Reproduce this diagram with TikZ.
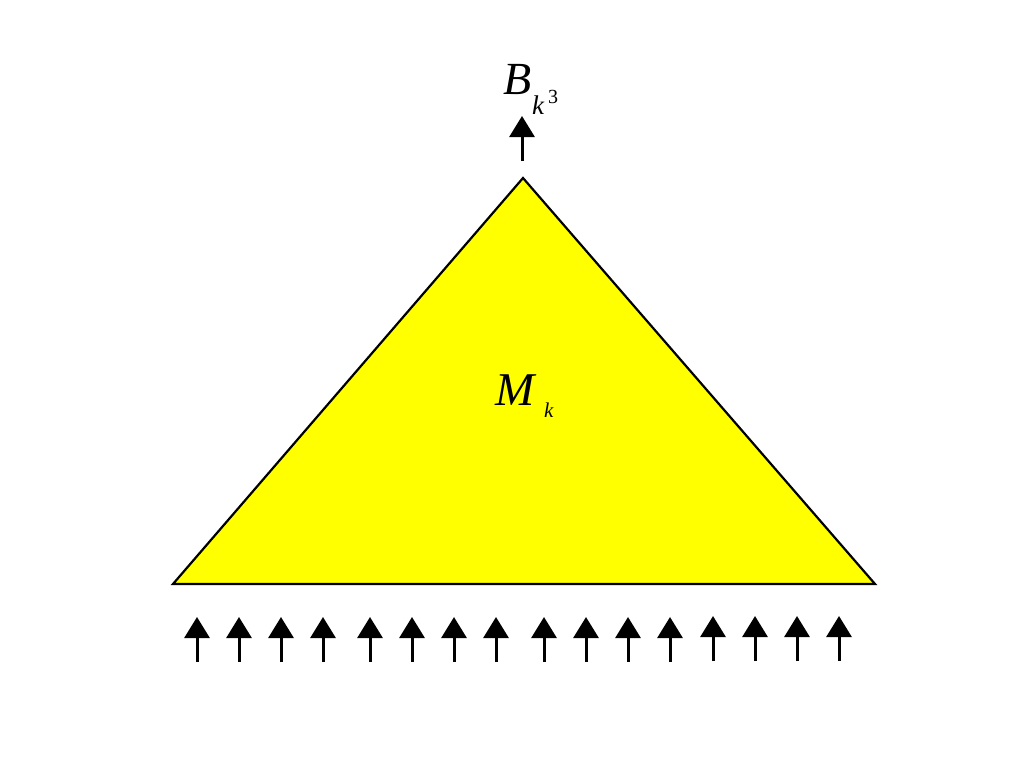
\documentclass[tikz,border=0pt]{standalone}
\usepackage{fontspec}
\setmainfont{Liberation Serif}
\usetikzlibrary{arrows.meta}
\definecolor{triyellow}{RGB}{255,255,0}
\tikzset{
  upar/.style={line width=3pt,-{Triangle[width=25pt,length=21pt]}},
  lbl/.style={anchor=base west,inner sep=0pt,outer sep=0pt},
}
\begin{document}
\begin{tikzpicture}[x=1pt,y=-1pt]
\useasboundingbox (0,0) rectangle (1024,768);
% triangle
\coordinate (apex) at (523,178);
\coordinate (bl) at (173,584);
\coordinate (br) at (875,584);
\fill[triyellow] (apex) -- (bl) -- (br) -- cycle;
\draw[line width=2.2pt,line join=miter] (apex) -- (bl) -- (br) -- cycle;
% labels
\node[lbl,font=\fontsize{46}{46}\selectfont\itshape] (B) at (503,94) {B};
\node[lbl,font=\fontsize{27}{27}\selectfont\itshape] (Bk) at (532,114) {k};
\node[lbl,font=\fontsize{20}{20}\selectfont] (B3) at (548,103) {3};
\node[lbl,font=\fontsize{47}{47}\selectfont\itshape] (M) at (495,405) {M};
\node[lbl,font=\fontsize{21}{21}\selectfont\itshape] (Mk) at (544,417) {k};
% top arrow
\coordinate (ts) at (522,161);
\coordinate (te) at (522,116);
\draw[upar] (ts) -- (te);
% bottom arrows
\foreach \i/\x/\t in {1/197/617,2/239/617,3/281/617,4/323/617,5/370/617,6/412/617,7/454/617,8/496/617,
                      9/544/617,10/586/617,11/628/617,12/670/617,13/713/616,14/755/616,15/797/616,16/839/616}{
  \coordinate (s\i) at (\x,\t+45);
  \coordinate (e\i) at (\x,\t);
  \draw[upar] (s\i) -- (e\i);
}
\end{tikzpicture}
\end{document}
